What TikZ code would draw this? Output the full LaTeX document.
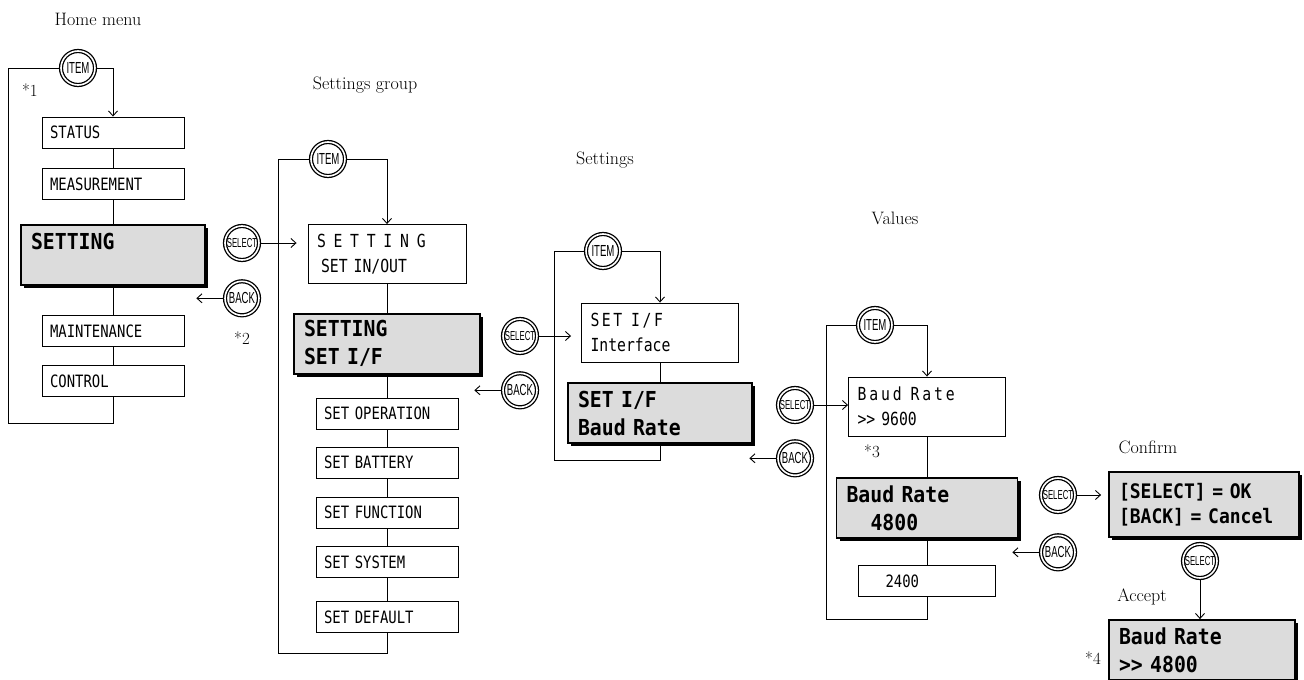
\documentclass[tikz,border=0pt]{standalone}
\usepackage{fontspec}
\usepackage{tikz}
\usetikzlibrary{positioning}
\usetikzlibrary{shadows}
\usetikzlibrary{arrows.meta}
\newfontfamily\lcdfont[FakeStretch=0.82]{DejaVu Sans Mono}
\newfontfamily\lcdboldfont[FakeStretch=0.9]{DejaVu Sans Mono}
\newfontfamily\btnfont[FakeStretch=0.6]{Liberation Sans}
\definecolor{lcdgray}{RGB}{220,220,220}
\newcommand{\spaced}[2]{{\addfontfeatures{LetterSpace=#1}#2}}
\tikzset{menubox/.style={draw,line width=0.9pt,fill=white,minimum height=31pt,inner xsep=8pt,inner ysep=0pt,align=left,font=\lcdfont\fontsize{17}{19}\selectfont}}
\tikzset{lcdbox/.style={draw,line width=0.9pt,fill=white,minimum height=59pt,inner xsep=9pt,inner ysep=3pt,align=left,font=\lcdfont\fontsize{18}{25}\selectfont}}
\tikzset{selbox/.style={draw,line width=1.8pt,fill=lcdgray,minimum height=60pt,inner xsep=10pt,inner ysep=3pt,align=left,font=\lcdboldfont\bfseries\fontsize{22}{28}\selectfont,drop shadow={shadow xshift=3pt,shadow yshift=-3pt,opacity=1,fill=black}}}
\tikzset{button/.style={circle,draw,double,double distance=1.6pt,line width=1.3pt,minimum size=34pt,inner sep=0pt,fill=white,font=\btnfont\fontsize{16}{16}\selectfont},
  selbtn/.style={button,font=\btnfont\fontsize{13}{13}\selectfont},
  backtip/.style={xshift=-28pt}}
\tikzset{title/.style={font=\fontsize{18}{20}\selectfont},
  note/.style={font=\fontsize{17}{19}\selectfont}}

\begin{document}
\begin{tikzpicture}[x=1pt,y=-1pt,line width=0.9pt,>={Straight Barb[length=5pt,width=9pt]}]
\useasboundingbox (0,0) rectangle (1304,680);
% Home menu
\node[title] (hometitle) at (98,19) {Home menu};
\node[button] (item1) at (78,68) {ITEM};
\node[note] (n1) at (30,90) {*1};
\node[menubox,text width=126pt] (status) at (113,132.5) {STATUS};
\node[menubox,text width=126pt,below=20pt of status] (measure) {MEASUREMENT};
\node[selbox,text width=164pt,below=24pt of measure] (setting) {SETTING\\\mbox{}};
\node[menubox,text width=126pt,below=29pt of setting] (maint) {MAINTENANCE};
\node[menubox,text width=126pt,below=18pt of maint] (control) {CONTROL};
\coordinate (homecorner) at (8,423);
\draw[->] (item1) -| (status);
\draw (status) -- (measure) (measure) -- (setting) (setting) -- (maint) (maint) -- (control);
\draw (control) |- (homecorner) |- (item1);

% Settings group
\node[title] (grouptitle) at (365,85) {Settings group};
\node[button] (item2) at (328,159) {ITEM};
\node[selbtn] (select1) at (242,243) {SELECT};
\node[button,below=20pt of select1] (back1) {BACK};
\node[note] (n2) at (242,338) {*2};
\node[lcdbox,text width=140pt] (inout) at (387,254) {\spaced{43}{SETTING}\\\hspace*{4pt}SET IN/OUT};
\node[selbox,text width=166pt,below=29pt of inout] (setif) {SETTING\\SET I/F};
\node[menubox,text width=126pt,below=23pt of setif] (setop) {SET OPERATION};
\node[menubox,text width=126pt,below=17pt of setop] (setbat) {SET BATTERY};
\node[menubox,text width=126pt,below=18pt of setbat] (setfun) {SET FUNCTION};
\node[menubox,text width=126pt,below=18pt of setfun] (setsys) {SET SYSTEM};
\node[menubox,text width=126pt,below=23pt of setsys] (setdef) {SET DEFAULT};
\coordinate (groupcorner) at (278,653);
\coordinate (back1tip) at ([backtip]back1.west);
\draw[->] (item2) -| (inout);
\draw (inout) -- (setif) (setif) -- (setop) (setop) -- (setbat) (setbat) -- (setfun) (setfun) -- (setsys) (setsys) -- (setdef);
\draw (setdef) |- (groupcorner) |- (item2);
\draw[->,shorten >=11pt] (select1) -- (select1 -| inout.west);
\draw[->] (back1) -- (back1tip);

% Settings
\node[title] (settitle) at (605,160) {Settings};
\node[button] (item3) at (603,251) {ITEM};
\node[selbtn] (select2) at (520,336) {SELECT};
\node[button,below=19pt of select2] (back2) {BACK};
\node[lcdbox,text width=139pt] (iface) at (660,332.5) {\spaced{14}{SET}\hspace*{9pt}\spaced{14}{I/F}\\Interface};
\node[selbox,text width=164pt,below=20pt of iface] (baudsel) {SET I/F\\Baud Rate};
\coordinate (setcorner) at (554,460);
\coordinate (back2tip) at ([backtip]back2.west);
\draw[->] (item3) -| (iface);
\draw (iface) -- (baudsel);
\draw (baudsel) |- (setcorner) |- (item3);
\draw[->,shorten >=10pt] (select2) -- (select2 -| iface.west);
\draw[->] (back2) -- (back2tip);

% Values
\node[title] (valtitle) at (895,218) {Values};
\node[button] (item4) at (875,325) {ITEM};
\node[selbtn] (select3) at (795,405) {SELECT};
\node[button,below=18pt of select3] (back3) {BACK};
\node[lcdbox,text width=139pt] (baud9600) at (927,406.5) {\spaced{16}{Baud}\hspace*{9pt}\spaced{16}{Rate}\\>{}> 9600};
\node[note] (n3) at (872,451) {*3};
\node[selbox,text width=161pt,below=41pt of baud9600] (baud4800) {Baud Rate\\\hspace*{24pt}4800};
\node[menubox,text width=121pt,below=26pt of baud4800] (baud2400) {\hspace*{19pt}2400};
\coordinate (valcorner) at (826,619);
\coordinate (back3tip) at ([backtip]back3.west);
\draw[->] (item4) -| (baud9600);
\draw (baud9600) -- (baud4800) (baud4800) -- (baud2400);
\draw (baud2400) |- (valcorner) |- (item4);
\draw[->] (select3) -- (select3 -| baud9600.west);
\draw[->] (back3) -- (back3tip);

% Confirm / Accept
\node[title] (conftitle) at (1148,447) {Confirm};
\node[selbtn] (select4) at (1058,495) {SELECT};
\node[button,below=22pt of select4] (back4) {BACK};
\node[selbox,text width=170pt,minimum height=65pt,font=\lcdboldfont\bfseries\fontsize{20}{25}\selectfont] (confirm) at (1204,504.5) {[SELECT] = OK\\{}[BACK] = Cancel};
\node[selbtn] (select5) at (1200,561) {SELECT};
\node[title] (accepttitle) at (1142,597) {Accept};
\node[selbox,text width=166pt] (accept) at (1202,650) {Baud Rate\\>{}> 4800};
\node[note] (n4) at (1093,658) {*4};
\coordinate (back4tip) at ([backtip]back4.west);
\draw[->,shorten >=7pt] (select4) -- (select4 -| confirm.west);
\draw[->] (back4) -- (back4tip);
\draw[->] (select5) -- (select5 |- accept.north);
\end{tikzpicture}
\end{document}
